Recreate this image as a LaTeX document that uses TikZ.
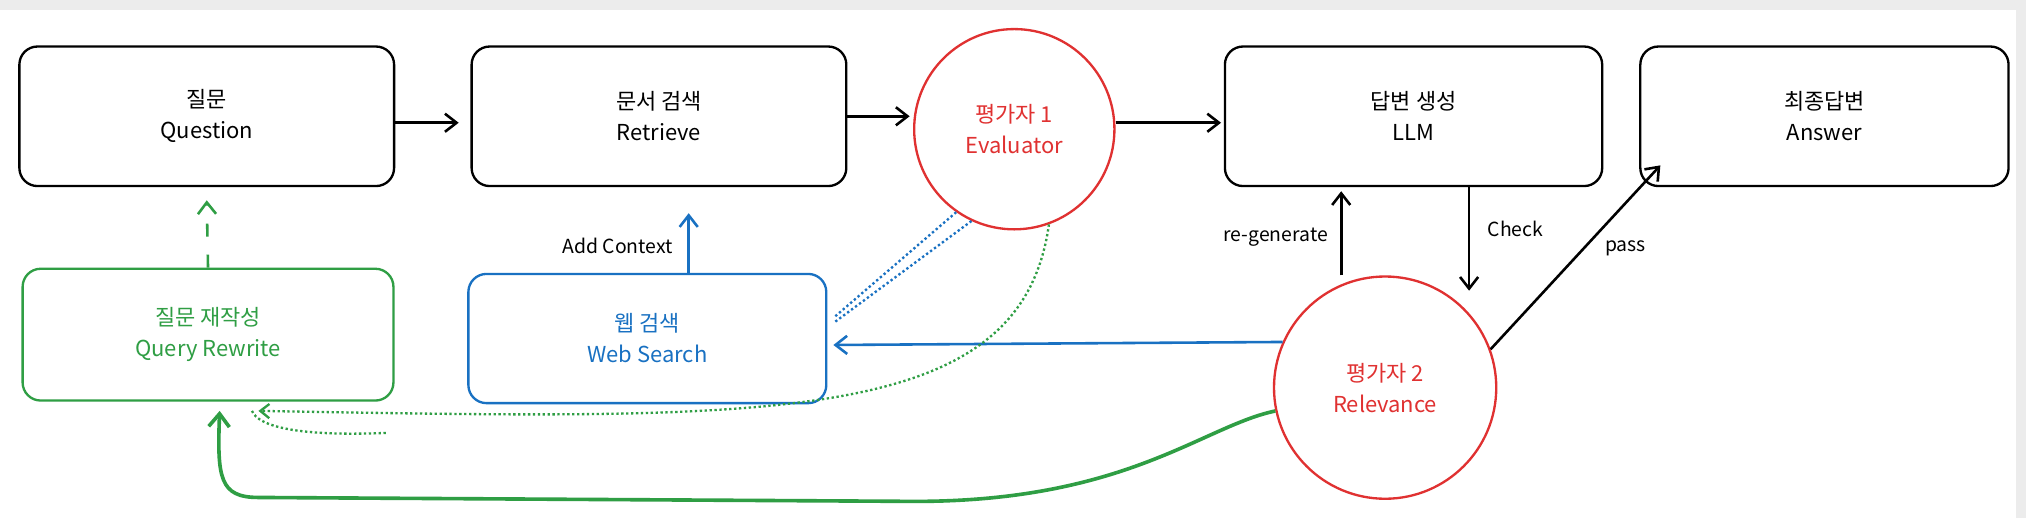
\documentclass[tikz,border=0pt]{standalone}
\usepackage{fontspec}
\setmainfont{Noto Sans CJK KR}
\usetikzlibrary{arrows.meta}
\definecolor{ered}{RGB}{224,49,49}
\definecolor{egreen}{RGB}{47,158,68}
\definecolor{eblue}{RGB}{25,113,194}
\begin{document}
\begin{tikzpicture}[x=1pt,y=-1pt,
 box/.style={draw,line width=1.8pt,rounded corners=14pt,minimum width=290pt,minimum height=108pt,align=center,font=\fontsize{17}{24}\selectfont},
 circ/.style={draw=ered,text=ered,line width=1.8pt,circle,align=center,font=\fontsize{17}{24}\selectfont},
 arr/.style={line width=2pt,-{Straight Barb[length=9pt,width=14pt]}},
 lab/.style={font=\fontsize{15}{18}\selectfont}]
\fill[gray!15] (0,0) rectangle (1568,401);
\fill[white] (0,8) rectangle (1560,401);
\useasboundingbox (0,0) rectangle (1568,401);
\node[box] (q) at (160,90) {질문\\Question};
\node[box] (r) at (510,90) {문서 검색\\Retrieve};
\node[circ,minimum size=155pt] (e) at (785,100) {평가자 1\\Evaluator};
\node[box,minimum width=292pt] (l) at (1094,90) {답변 생성\\LLM};
\node[box,minimum width=285pt] (a) at (1412,90) {최종답변\\Answer};
\node[box,draw=egreen,text=egreen,minimum width=287pt,minimum height=102pt] (qr) at (161,259) {질문 재작성\\Query Rewrite};
\node[box,draw=eblue,text=eblue,minimum width=277pt,minimum height=100pt] (w) at (501,262) {웹 검색\\Web Search};
\node[circ,minimum size=172pt] (rel) at (1072,300) {평가자 2\\Relevance};
\coordinate (c1) at (355,95);
\coordinate (c2) at (533,165);
\coordinate (c3) at (1137,225);
\coordinate (c4) at (1038,148);
\coordinate (c5) at (1285,128);
\coordinate (c6) at (645,267);
\coordinate (c7) at (160,155);
\coordinate (c8) at (704,90);
\coordinate (c9) at (945,95);
\draw[arr] (q.east |- c1) -- (c1);
\draw[arr] (r.east |- c8) -- (c8);
\draw[arr] (e.east |- c9) -- (c9);
\draw[arr,egreen,dash pattern=on 10pt off 14pt] (qr.north) -- (c7);
\draw[arr,eblue] (w.north -| c2) -- (c2) node[pos=0.45,left=8pt,black,lab]{Add Context};
\draw[arr] (l.south -| c3) -- (c3) node[pos=0.4,right=10pt,lab]{Check};
\draw[arr] (rel.north -| c4) -- (c4) node[pos=0.45,left=6pt,lab]{re-generate};
\draw[arr] (rel.20) -- (c5) node[pos=0.55,right=12pt,lab]{pass};
\draw[arr,eblue] (rel.156) -- (c6);
\draw[eblue,line width=1.8pt,dotted] (e.235) -- (645,246);
\draw[eblue,line width=1.8pt,dotted] (e.245) -- (645,250);
\draw[egreen,line width=1.8pt,dotted,-{Straight Barb[length=7pt,width=11pt]}] (e.290) .. controls (790,330) and (600,325) .. (200,318);
\draw[egreen,line width=1.8pt,dotted] (195,318) .. controls (200,330) and (230,338) .. (300,335);
\draw[egreen,line width=2.8pt,-{Straight Barb[length=10pt,width=16pt]}] (rel.192) .. controls (930,330) and (870,390) .. (700,388) -- (200,385) .. controls (170,385) and (168,370) .. (170,318);
\end{tikzpicture}
\end{document}
